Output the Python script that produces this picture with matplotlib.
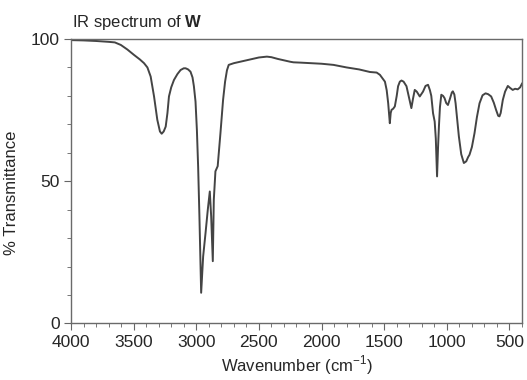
import matplotlib
matplotlib.use("Agg")
import matplotlib.pyplot as plt
from matplotlib.ticker import MultipleLocator

plt.rcParams['font.family'] = ['Liberation Sans', 'DejaVu Sans']
plt.rcParams['mathtext.fontset'] = 'custom'
plt.rcParams['mathtext.rm'] = 'Liberation Sans'
plt.rcParams['mathtext.bf'] = 'Liberation Sans:bold'

# Wavenumber (cm^-1) and % transmittance
wavenumber = [4000, 3900, 3800, 3700, 3650, 3602, 3550, 3497, 3450, 3417, 3390,
              3364, 3337, 3311, 3290, 3276, 3260, 3244, 3230, 3218, 3200, 3178,
              3150, 3125, 3100, 3085, 3065, 3046, 3030, 3019, 3006, 2995, 2985,
              2975, 2966, 2961, 2945, 2926, 2908, 2892, 2881, 2868, 2860, 2847,
              2829, 2807, 2786, 2770, 2755, 2741, 2700, 2648, 2600, 2550, 2500,
              2436, 2400, 2350, 2300, 2250, 2224, 2171, 2091, 2000, 1905, 1800,
              1700, 1614, 1560, 1534, 1494, 1480, 1468, 1455, 1448, 1441, 1428,
              1415, 1400, 1389, 1375, 1362, 1345, 1322, 1300, 1283, 1270, 1256,
              1240, 1216, 1190, 1170, 1150, 1135, 1124, 1110, 1097, 1088, 1078,
              1070, 1063, 1055, 1044, 1030, 1018, 1005, 991, 975, 960, 952, 940,
              930, 918, 904, 885, 864, 845, 830, 819, 800, 779, 760, 739, 715,
              691, 670, 646, 625, 607, 590, 580, 570, 553, 535, 513, 495, 474,
              455, 434, 415, 400]
transmittance = [99.6, 99.5, 99.3, 99.0, 98.8, 97.9, 96.3, 94.4, 92.8, 91.5, 90.0,
                 86.8, 79.8, 71.6, 67.5, 66.7, 67.5, 69.2, 74.0, 79.8, 83.0, 85.6,
                 87.7, 89.1, 89.7, 89.7, 89.3, 88.5, 86.5, 83.4, 78.0, 68.0, 55.0,
                 38.0, 20.0, 10.8, 23.6, 31.8, 40.0, 46.4, 37.6, 21.9, 43.5, 53.5,
                 55.3, 66.9, 78.6, 85.0, 89.0, 90.9, 91.5, 92.0, 92.5, 93.0, 93.5,
                 93.8, 93.6, 93.0, 92.5, 92.0, 91.8, 91.7, 91.5, 91.3, 90.9, 90.0,
                 89.3, 88.4, 88.2, 87.4, 85.0, 82.0, 77.4, 70.4, 74.0, 75.1, 75.5,
                 76.3, 80.0, 83.4, 85.0, 85.4, 85.0, 83.4, 79.0, 75.7, 79.0, 82.1,
                 81.5, 79.8, 81.5, 83.5, 83.9, 82.0, 80.0, 73.9, 71.0, 65.0, 51.7,
                 62.0, 69.3, 76.0, 80.4, 80.0, 79.2, 77.5, 76.8, 79.0, 81.2, 81.6, 80.5,
                 77.4, 72.0, 65.8, 59.5, 56.4, 57.0, 58.5, 59.3, 62.0, 66.9, 72.5, 77.4, 80.2,
                 80.9, 80.6, 79.8, 77.6, 75.1, 73.0, 72.8, 74.0, 78.6, 81.5, 83.5, 82.8, 82.1,
                 82.5, 82.3, 83.0, 84.3]

x_ticks = [4000, 3500, 3000, 2500, 2000, 1500, 1000, 500]
y_ticks = [0, 50, 100]

fig = plt.figure(figsize=(5.27, 3.80), dpi=100)
ax = fig.add_axes([0.1347, 0.1487, 0.8558, 0.7487])

line_col = '#444444'
txt_col = '#262626'
ax.plot(wavenumber, transmittance, color=line_col, lw=1.4)

ax.set_xlim(4000, 400)
ax.set_ylim(0, 100)
ax.set_xticks(x_ticks)
ax.set_yticks(y_ticks)
ax.xaxis.set_minor_locator(MultipleLocator(100))
ax.yaxis.set_minor_locator(MultipleLocator(10))
ax.tick_params(which='major', direction='out', length=5, width=0.8,
               color='#666666', labelsize=12.5, labelcolor=txt_col, pad=3)
ax.tick_params(which='minor', direction='out', length=3, width=0.7, color='#777777')

for s in ax.spines.values():
    s.set_color('#6a6a6a')
    s.set_linewidth(1.0)

ax.set_xlabel('Wavenumber (cm$^{-1}$)', fontsize=12, color=txt_col, labelpad=3)
ax.set_ylabel('% Transmittance', fontsize=12, color=txt_col, labelpad=6)
ax.yaxis.set_label_coords(-0.115, 0.46)

fig.text(72 / 527, 1 - 27 / 380, r'IR spectrum of $\mathbf{W}$', fontsize=12,
         color=txt_col, ha='left', va='baseline')

fig.savefig('out.png', dpi=100)
